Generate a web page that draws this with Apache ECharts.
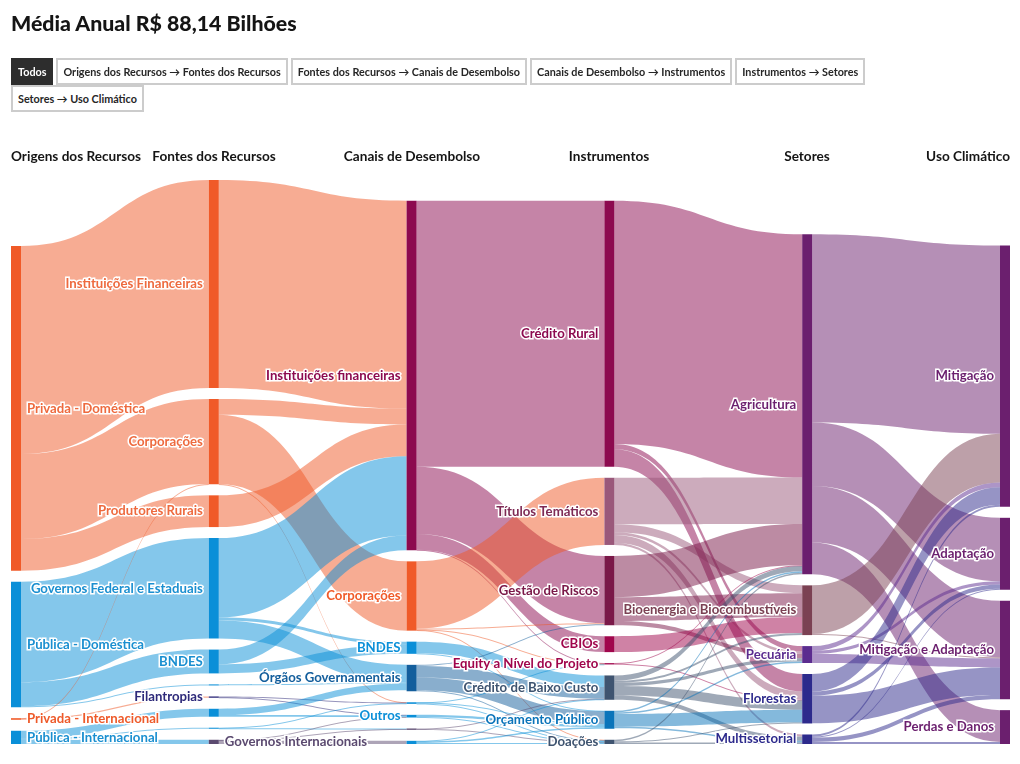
<!DOCTYPE html>
<html><head><meta charset="utf-8">
<script src="https://cdn.jsdelivr.net/npm/echarts@6/dist/echarts.min.js"></script>
<style>
body{margin:0;background:#fff;font-family:Lato,"Open Sans",sans-serif;}
#chart{position:absolute;left:0;top:0;width:1020px;height:764px;}
#title{position:absolute;left:11px;top:9px;font-size:21.3px;line-height:28px;font-weight:900;color:#151515;z-index:2;}
.row{position:absolute;left:11px;display:flex;gap:3px;z-index:2;}
.btn{border:2px solid #cccccc;font-size:10.8px;font-weight:700;color:#262626;padding:0 5px;height:23px;line-height:23px;background:#fff;white-space:nowrap;}
.btn.on{background:#2d2d2d;color:#fff;border-color:#2d2d2d;}
</style></head>
<body>
<div id="chart"></div>
<div id="title">Média Anual R$ 88,14 Bilhões</div>
<div class="row" style="top:58px">
<div class="btn on">Todos</div>
<div class="btn">Origens dos Recursos → Fontes dos Recursos</div>
<div class="btn">Fontes dos Recursos → Canais de Desembolso</div>
<div class="btn">Canais de Desembolso → Instrumentos</div>
<div class="btn">Instrumentos → Setores</div>
</div>
<div class="row" style="top:85px">
<div class="btn">Setores → Uso Climático</div>
</div>
<script>
// ---- Data (R$ bilhões, média anual) ----
const columnTitles = ['Origens dos Recursos','Fontes dos Recursos','Canais de Desembolso','Instrumentos','Setores','Uso Climático'];

// [key, label, column]  (label null = rótulo não exibido)
const origens = [['PD','Privada - Doméstica',0],['PUD','Pública - Doméstica',0],['PRI','Privada - Internacional',0],['PUI','Pública - Internacional',0]];
const fontes = [['IF1','Instituições Financeiras',1],['CO1','Corporações',1],['PR1','Produtores Rurais',1],['GF1','Governos Federal e Estaduais',1],['BN1','BNDES',1],['X1',null,1],['FI1','Filantropias',1],['X2',null,1],['X3',null,1],['GI1','Governos Internacionais',1]];
const canais = [['IF2','Instituições financeiras',2],['CO2','Corporações',2],['BN2','BNDES',2],['OG2','Órgãos Governamentais',2],['Y1',null,2],['OU2','Outros',2],['Y2',null,2],['Y3',null,2]];
const instrumentos = [['CR','Crédito Rural',3],['TT','Títulos Temáticos',3],['GR','Gestão de Riscos',3],['CB','CBIOs',3],['EQ','Equity a Nível do Projeto',3],['BC','Crédito de Baixo Custo',3],['OP','Orçamento Público',3],['DO','Doações',3]];
const setores = [['AG','Agricultura',4],['BIO','Bioenergia e Biocombustíveis',4],['PEC','Pecuária',4],['FLO','Florestas',4],['MS','Multissetorial',4]];
const usos = [['MIT','Mitigação',5],['ADA','Adaptação',5],['MA','Mitigação e Adaptação',5],['PDA','Perdas e Danos',5]];

const linksOrigensFontes = [
 ['PD','IF1',39.3],['PD','CO1',16.1],['PD','PR1',6.0],
 ['PUD','GF1',19.0],['PUD','BN1',4.5],['PUD','X1',0.2],
 ['PRI','FI1',0.25],['PRI','CO1',0.05],
 ['PUI','X2',1.5],['PUI','X3',0.2],['PUI','GI1',0.8]
];
const linksFontesCanais = [
 ['IF1','IF2',39.3],
 ['CO1','IF2',3.0],['CO1','CO2',13.1],['CO1','Y2',0.05],
 ['PR1','IF2',6.0],
 ['GF1','IF2',15.0],['GF1','BN2',0.6],['GF1','OG2',3.4],
 ['BN1','IF2',2.8],['BN1','BN2',1.7],
 ['X1','OG2',0.2],
 ['FI1','OU2',0.1],['FI1','Y2',0.15],
 ['X2','OG2',1.2],['X2','OU2',0.3],
 ['X3','Y1',0.1],['X3','Y2',0.1],
 ['GI1','Y1',0.15],['GI1','Y3',0.6],['GI1','OU2',0.05]
];
const linksCanaisInstrumentos = [
 ['IF2','CR',50.3],['IF2','GR',12.7],['IF2','CB',3.0],['IF2','EQ',0.1],
 ['CO2','TT',12.7],['CO2','GR',0.2],['CO2','EQ',0.1],['CO2','DO',0.1],
 ['BN2','BC',2.2],['BN2','OP',0.1],
 ['OG2','BC',2.2],['OG2','OP',2.4],['OG2','GR',0.2],['OG2','DO',0.2],
 ['Y1','DO',0.15],['Y1','BC',0.1],
 ['OU2','OP',0.4],['OU2','DO',0.1],
 ['Y2','OP',0.2],['Y2','EQ',0.05],['Y2','DO',0.05],
 ['Y3','OP',0.3],['Y3','DO',0.2],['Y3','BC',0.1]
];
const linksInstrumentosSetores = [
 ['CR','AG',46.0],['CR','PEC',1.0],['CR','FLO',3.3],
 ['TT','AG',8.8],['TT','BIO',1.5],['TT','PEC',0.5],['TT','FLO',1.5],['TT','MS',0.4],
 ['GR','AG',7.8],['GR','BIO',4.5],['GR','PEC',0.8],
 ['CB','BIO',3.0],
 ['EQ','AG',0.1],['EQ','FLO',0.15],
 ['BC','AG',1.0],['BC','BIO',0.4],['BC','PEC',0.6],['BC','FLO',1.8],['BC','MS',0.8],
 ['OP','AG',0.3],['OP','PEC',0.3],['OP','FLO',2.4],['OP','MS',0.3],
 ['DO','AG',0.3],['DO','FLO',0.2],['DO','MS',0.3]
];
const linksSetoresUsos = [
 ['AG','MIT',35.6],['AG','ADA',12.0],['AG','MA',10.7],['AG','PDA',6.0],
 ['BIO','MIT',9.2],['BIO','MA',0.2],
 ['PEC','MIT',0.9],['PEC','ADA',0.6],['PEC','MA',1.7],
 ['FLO','MIT',3.3],['FLO','ADA',0.8],['FLO','MA',5.2],
 ['MS','MIT',0.4],['MS','ADA',0.2],['MS','MA',0.8],['MS','PDA',0.4]
];

// ---- Styles ----
const ORANGE='#F05A28', BLUE='#0A8FD8', WINE='#8C0A4F', PURPLE='#6B1F6E';
const nodeColors = {
 PD:ORANGE,PUD:BLUE,PRI:ORANGE,PUI:BLUE,
 IF1:ORANGE,CO1:ORANGE,PR1:ORANGE,GF1:BLUE,BN1:BLUE,X1:BLUE,FI1:'#2E2A7A',X2:BLUE,X3:BLUE,GI1:'#5B4A70',
 IF2:WINE,CO2:ORANGE,BN2:BLUE,OG2:'#135E9C',Y1:'#5B4A70',OU2:BLUE,Y2:BLUE,Y3:BLUE,
 CR:WINE,TT:'#9A587A',GR:'#7A1848',CB:'#A0064C',EQ:'#A0064C',BC:'#3F5470',OP:'#0A74BA',DO:'#3F5470',
 AG:PURPLE,BIO:'#7B4153',PEC:'#5B2C8F',FLO:'#2D2A8C',MS:'#2D2A8C',
 MIT:PURPLE,ADA:PURPLE,MA:PURPLE,PDA:PURPLE
};
const labelColors = {IF1:'#EE6A3E',CO1:'#EE6A3E',PR1:'#EE6A3E',PD:'#EE6A3E',PRI:'#EE5A2A',GF1:'#1A8FD0',PUD:'#1A8FD0',PUI:'#1A8FD0',BN1:'#1A8FD0',TT:'#7E2A55'};
const rightLabel = {GI1:true};

const allNodes = [].concat(origens,fontes,canais,instrumentos,setores,usos);
const data = allNodes.map(([key,label,col]) => ({
  name:key, depth:col,
  itemStyle:{color:nodeColors[key]},
  label:{
    show: label!==null,
    formatter: label||'',
    position: (col===0 || rightLabel[key]) ? 'right' : 'left',
    color: labelColors[key] || nodeColors[key]
  }
}));
const links = [].concat(linksOrigensFontes,linksFontesCanais,linksCanaisInstrumentos,linksInstrumentosSetores,linksSetoresUsos)
  .map(([s,t,v]) => ({source:s,target:t,value:v}));

const colX = [11,214,412,609,807,1010];
const colAlign = ['left','center','center','center','center','right'];
const graphic = columnTitles.map((t,i)=>({
  type:'text', x:colX[i], y:157,
  style:{text:t, fill:'#151515', font:'bold 13.6px Lato', textAlign:colAlign[i], textVerticalAlign:'middle'}
}));

const chart = echarts.init(document.getElementById('chart'));
chart.setOption({
  animation:false,
  graphic: graphic,
  series:[{
    type:'sankey',
    left:11, right:10, top:180, bottom:20,
    nodeWidth:10, nodeGap:11,
    layoutIterations:8,
    nodeAlign:'justify',
    draggable:false,
    emphasis:{disabled:true},
    data:data, links:links,
    lineStyle:{color:'source', opacity:0.5, curveness:0.5},
    label:{fontFamily:'Lato', fontWeight:'bold', fontSize:13.2, textBorderColor:'#fff', textBorderWidth:3, distance:6}
  }]
});
</script>
</body></html>
